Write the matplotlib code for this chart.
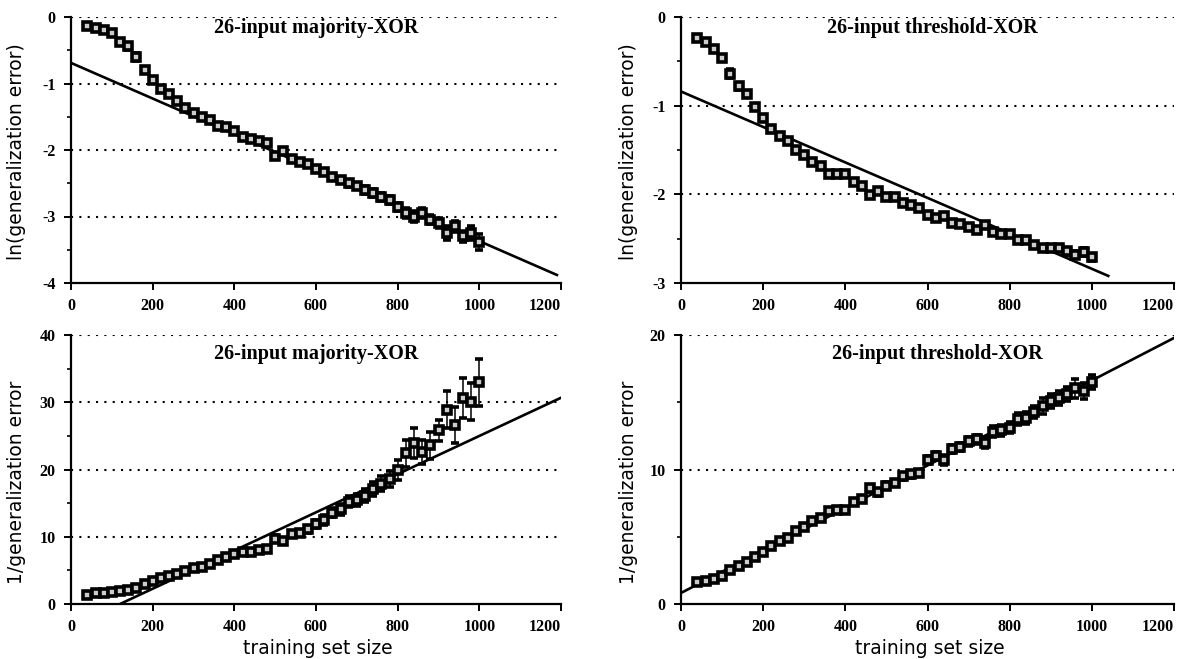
import matplotlib
matplotlib.use("Agg")
import matplotlib.pyplot as plt
import numpy as np

# training set sizes (same for all four panels)
sizes = np.arange(40, 1001, 20)

# --- ln(generalization error), majority-XOR ---
maj_ln = [-0.14, -0.17, -0.20, -0.24, -0.37, -0.44, -0.60, -0.79, -0.95, -1.08,
          -1.16, -1.27, -1.37, -1.45, -1.50, -1.55, -1.64, -1.66, -1.71, -1.80,
          -1.84, -1.86, -1.89, -2.09, -2.02, -2.13, -2.18, -2.21, -2.28, -2.33,
          -2.40, -2.45, -2.50, -2.54, -2.60, -2.65, -2.70, -2.75, -2.85, -2.95,
          -3.00, -2.95, -3.05, -3.10, -3.25, -3.15, -3.30, -3.25, -3.38]
maj_ln_err = [0.02, 0.02, 0.02, 0.02, 0.04, 0.05, 0.06, 0.04, 0.04, 0.04,
              0.04, 0.04, 0.03, 0.03, 0.03, 0.03, 0.03, 0.03, 0.03, 0.03,
              0.03, 0.03, 0.03, 0.04, 0.03, 0.03, 0.03, 0.03, 0.04, 0.04,
              0.04, 0.05, 0.05, 0.05, 0.06, 0.06, 0.06, 0.06, 0.06, 0.08,
              0.08, 0.08, 0.07, 0.08, 0.10, 0.08, 0.08, 0.10, 0.12]
maj_ln_fit = (-0.69, -0.00268, 0, 1190)   # intercept, slope, x range

# --- ln(generalization error), threshold-XOR ---
thr_ln = [-0.24, -0.28, -0.36, -0.46, -0.64, -0.78, -0.87, -1.02, -1.14, -1.26,
          -1.34, -1.40, -1.50, -1.56, -1.64, -1.68, -1.77, -1.77, -1.77, -1.86,
          -1.91, -2.01, -1.96, -2.03, -2.03, -2.10, -2.12, -2.15, -2.23, -2.27,
          -2.24, -2.32, -2.34, -2.37, -2.40, -2.35, -2.43, -2.45, -2.45, -2.51,
          -2.52, -2.57, -2.61, -2.60, -2.61, -2.64, -2.68, -2.65, -2.71]
thr_ln_err = [0.02, 0.02, 0.02, 0.02, 0.05, 0.04, 0.03, 0.03, 0.03, 0.03,
              0.03, 0.03, 0.03, 0.03, 0.03, 0.03, 0.02, 0.02, 0.02, 0.03,
              0.03, 0.03, 0.03, 0.03, 0.02, 0.03, 0.03, 0.03, 0.03, 0.03,
              0.03, 0.03, 0.03, 0.03, 0.03, 0.03, 0.03, 0.03, 0.03, 0.03,
              0.03, 0.03, 0.03, 0.03, 0.03, 0.04, 0.04, 0.04, 0.04]
thr_ln_fit = (-0.84, -0.0020, 0, 1040)

# --- 1/generalization error, majority-XOR ---
maj_inv = [1.4, 1.65, 1.65, 1.8, 2.0, 2.05, 2.4, 3.0, 3.4, 3.9,
           4.1, 4.5, 4.9, 5.4, 5.5, 5.9, 6.5, 7.0, 7.4, 7.7,
           7.8, 8.0, 8.2, 9.7, 9.4, 10.4, 10.5, 11.1, 11.9, 12.5,
           13.6, 14.1, 15.2, 15.4, 16.1, 17.1, 17.9, 18.6, 19.9, 22.4,
           23.9, 22.6, 23.6, 25.8, 28.9, 26.6, 30.6, 30.1, 33.0]
maj_inv_err = [0.15, 0.15, 0.15, 0.15, 0.15, 0.15, 0.2, 0.2, 0.2, 0.2,
               0.2, 0.2, 0.2, 0.25, 0.25, 0.25, 0.3, 0.3, 0.3, 0.3,
               0.3, 0.3, 0.3, 0.5, 0.4, 0.4, 0.4, 0.5, 0.6, 0.7,
               0.7, 0.8, 0.8, 0.9, 1.0, 1.0, 1.1, 1.2, 1.5, 2.0,
               2.2, 1.8, 2.0, 1.5, 2.8, 2.7, 3.0, 2.8, 3.5]
maj_inv_fit = (-3.41, 0.0284, 120, 1200)

# --- 1/generalization error, threshold-XOR ---
thr_inv = [1.6, 1.7, 1.85, 2.1, 2.5, 2.8, 3.1, 3.5, 3.85, 4.3,
           4.7, 4.9, 5.45, 5.7, 6.2, 6.4, 6.9, 7.0, 7.0, 7.6,
           7.8, 8.6, 8.3, 8.8, 9.0, 9.5, 9.65, 9.75, 10.7, 11.0,
           10.7, 11.5, 11.7, 12.1, 12.25, 12.0, 12.8, 12.9, 13.1, 13.75,
           13.85, 14.25, 14.75, 15.1, 15.3, 15.6, 16.05, 15.85, 16.5]
thr_inv_err = [0.1, 0.1, 0.1, 0.1, 0.15, 0.15, 0.15, 0.15, 0.15, 0.15,
               0.15, 0.15, 0.2, 0.2, 0.2, 0.2, 0.2, 0.2, 0.2, 0.2,
               0.2, 0.25, 0.25, 0.25, 0.25, 0.25, 0.25, 0.25, 0.3, 0.3,
               0.4, 0.3, 0.3, 0.35, 0.35, 0.4, 0.4, 0.4, 0.4, 0.45,
               0.45, 0.45, 0.6, 0.5, 0.5, 0.5, 0.7, 0.6, 0.5]
thr_inv_fit = (0.82, 0.0158, 0, 1200)

x_ticks = [0, 200, 400, 600, 800, 1000, 1200]

W, H = 1183, 659
fig = plt.figure(figsize=(W / 100, H / 100), dpi=100)

TICK_FONT = dict(family="Liberation Serif", weight="bold", size=11.5)
LABEL_FONT = dict(family="DejaVu Sans", size=13.5)
TITLE_FONT = dict(family="Liberation Serif", weight="bold", size=14.5)


def px_axes(left, right, top, bottom):
    return fig.add_axes([left / W, 1 - bottom / H, (right - left) / W, (bottom - top) / H])


def panel(ax, y, err, fit, ylim, major, minor, title, title_x, title_y):
    b, m, x0, x1 = fit
    ax.errorbar(sizes, y, yerr=err, fmt="s", ms=5.5, mfc="#cccccc", mec="black",
                mew=2.6, ecolor="black", elinewidth=1.1, capsize=3, capthick=1.2,
                zorder=3)
    xs = np.array([x0, x1])
    ax.plot(xs, b + m * xs, color="black", lw=1.9, zorder=2)
    # dotted reference lines at every labelled level above the x axis
    for g in major[1:]:
        ax.axhline(g, color="black", lw=1.5, ls=(0, (1, 3)), zorder=1)
    ax.set_xlim(0, 1200)
    ax.set_ylim(*ylim)
    ax.set_xticks(x_ticks)
    ax.set_yticks(major)
    ax.set_yticks(minor, minor=True)
    ax.set_xticklabels([str(v) for v in x_ticks], fontdict=TICK_FONT)
    ax.set_yticklabels([f"{v:g}" for v in major], fontdict=TICK_FONT)
    ax.get_xticklabels()[-1].set_horizontalalignment("right")
    for s in ("top", "right"):
        ax.spines[s].set_visible(False)
    for s in ("left", "bottom"):
        ax.spines[s].set_linewidth(1.6)
    ax.tick_params(which="major", length=5, width=1.4, pad=6)
    ax.tick_params(which="minor", length=3, width=1.2)
    ax.text(title_x, title_y, title, transform=ax.transAxes, ha="center",
            va="center", **TITLE_FONT)


ax_tl = px_axes(71, 561, 17, 283)
panel(ax_tl, maj_ln, maj_ln_err, maj_ln_fit, (-4, 0), [-4, -3, -2, -1, 0],
      [-3.5, -2.5, -1.5, -0.5], "26-input majority-XOR", 0.50, 0.96)
ax_tr = px_axes(681, 1174, 17, 283)
panel(ax_tr, thr_ln, thr_ln_err, thr_ln_fit, (-3, 0), [-3, -2, -1, 0],
      [-2.5, -1.5, -0.5], "26-input threshold-XOR", 0.51, 0.96)
ax_bl = px_axes(71, 561, 335, 604)
panel(ax_bl, maj_inv, maj_inv_err, maj_inv_fit, (0, 40), [0, 10, 20, 30, 40],
      [5, 15, 25, 35], "26-input majority-XOR", 0.50, 0.93)
ax_br = px_axes(681, 1174, 335, 604)
panel(ax_br, thr_inv, thr_inv_err, thr_inv_fit, (0, 20), [0, 10, 20],
      [5, 15], "26-input threshold-XOR", 0.52, 0.93)

# axis labels placed in pixel terms
fig.text(17 / W, 1 - 152 / H, "ln(generalization error)", rotation=90,
         ha="center", va="center", **LABEL_FONT)
fig.text(628 / W, 1 - 152 / H, "ln(generalization error)", rotation=90,
         ha="center", va="center", **LABEL_FONT)
fig.text(17 / W, 1 - 482 / H, "1/generalization error", rotation=90,
         ha="center", va="center", **LABEL_FONT)
fig.text(628 / W, 1 - 482 / H, "1/generalization error", rotation=90,
         ha="center", va="center", **LABEL_FONT)
fig.text(318 / W, 1 - 648 / H, "training set size", ha="center", va="center",
         **LABEL_FONT)
fig.text(930 / W, 1 - 648 / H, "training set size", ha="center", va="center",
         **LABEL_FONT)

fig.savefig("out.png", dpi=100)
